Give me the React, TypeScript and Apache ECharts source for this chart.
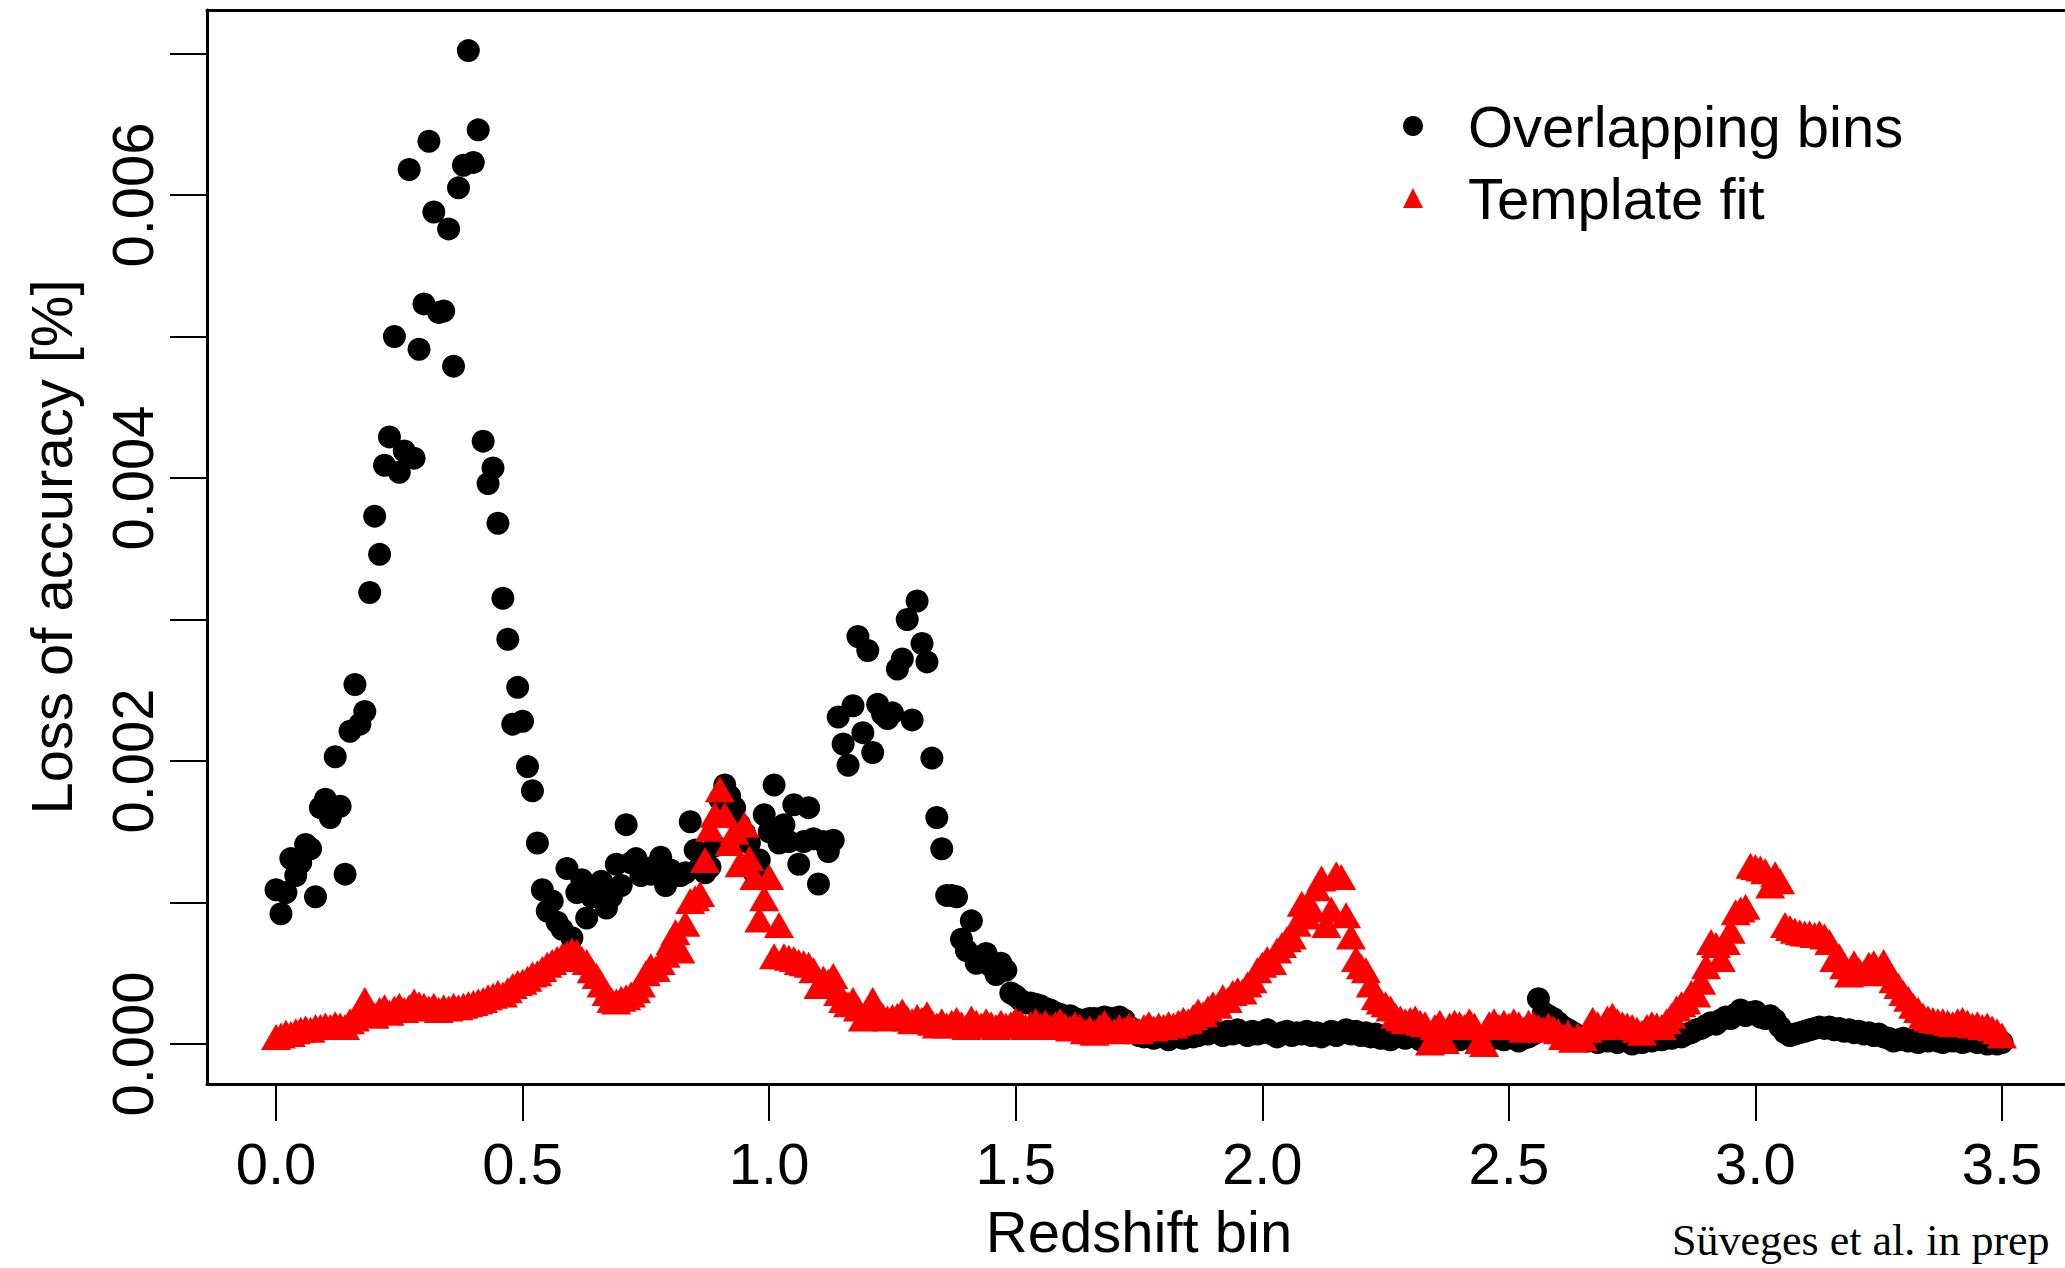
import React, { useEffect, useRef } from "react";
import * as echarts from "echarts";

// Redshift bin centres (regular 0.01 grid from 0.00 to 3.50)
const xBins: number[] = Array.from({ length: 351 }, (_, i) => i / 100);

// Loss of accuracy [%] – overlapping bins (black circles)
const overlappingBins: number[] = [
  0.00109, 0.00092, 0.00107, 0.00131, 0.00119, 0.00128, 0.00141, 0.00138, 0.00104, 0.00167,
  0.00173, 0.00160, 0.00203, 0.00168, 0.00120, 0.00221, 0.00254, 0.00226, 0.00235, 0.00319,
  0.00373, 0.00346, 0.00409, 0.00429, 0.00500, 0.00404, 0.00419, 0.00618, 0.00414, 0.00491,
  0.00523, 0.00638, 0.00588, 0.00517, 0.00518, 0.00576, 0.00479, 0.00605, 0.00621, 0.00702,
  0.00623, 0.00646, 0.00426, 0.00396, 0.00407, 0.00368, 0.00315, 0.00286, 0.00226, 0.00252,
  0.00228, 0.00196, 0.00179, 0.00142, 0.00109, 0.00094, 0.00101, 0.00086, 0.00081, 0.00124,
  0.00075, 0.00107, 0.00116, 0.00089, 0.00104, 0.00110, 0.00115, 0.00096, 0.00104, 0.00127,
  0.00112, 0.00155, 0.00128, 0.00131, 0.00119, 0.00124, 0.00120, 0.00126, 0.00132, 0.00112,
  0.00123, 0.00119, 0.00119, 0.00121, 0.00157, 0.00137, 0.00125, 0.00121, 0.00125, 0.00140,
  0.00173, 0.00183, 0.00175, 0.00167, 0.00155, 0.00149, 0.00142, 0.00121, 0.00130, 0.00162,
  0.00150, 0.00183, 0.00142, 0.00155, 0.00143, 0.00169, 0.00127, 0.00143, 0.00167, 0.00145,
  0.00113, 0.00143, 0.00136, 0.00144, 0.00231, 0.00212, 0.00197, 0.00239, 0.00288, 0.00220,
  0.00278, 0.00206, 0.00240, 0.00233, 0.00230, 0.00234, 0.00265, 0.00272, 0.00300, 0.00229,
  0.00313, 0.00283, 0.00270, 0.00202, 0.00160, 0.00138, 0.00105, 0.00105, 0.00104, 0.00074,
  0.00066, 0.00087, 0.00057, 0.00062, 0.00064, 0.00055, 0.00049, 0.00057, 0.00052, 0.00036,
  0.00034, 0.00031, 0.00029, 0.00029, 0.00028, 0.00027, 0.00025, 0.00024, 0.00022, 0.00021,
  0.00019, 0.00020, 0.00018, 0.00017, 0.00017, 0.00018, 0.00018, 0.00017, 0.00019, 0.00018,
  0.00018, 0.00019, 0.00017, 0.00012, 0.00010, 0.00006, 0.00005, 0.00007, 0.00004, 0.00006,
  0.00005, 0.00003, 0.00006, 0.00005, 0.00004, 0.00007, 0.00005, 0.00006, 0.00008, 0.00007,
  0.00009, 0.00008, 0.00006, 0.00009, 0.00007, 0.00010, 0.00008, 0.00006, 0.00009, 0.00007,
  0.00008, 0.00010, 0.00007, 0.00005, 0.00008, 0.00009, 0.00006, 0.00008, 0.00007, 0.00009,
  0.00006, 0.00008, 0.00005, 0.00007, 0.00009, 0.00006, 0.00008, 0.00010, 0.00007, 0.00009,
  0.00006, 0.00008, 0.00005, 0.00007, 0.00004, 0.00006, 0.00003, 0.00005, 0.00007, 0.00004,
  0.00006, 0.00005, 0.00003, 0.00005, 0.00006, 0.00004, 0.00003, 0.00005, 0.00004, 0.00006,
  0.00003, 0.00005, 0.00004, 0.00002, 0.00004, 0.00005, 0.00003, 0.00004, 0.00006, 0.00003,
  0.00005, 0.00004, 0.00002, 0.00004, 0.00005, 0.00007, 0.00032, 0.00022, 0.00020, 0.00018,
  0.00015, 0.00012, 0.00010, 0.00008, 0.00006, 0.00003, 0.00002, 0.00004, 0.00001, 0.00003,
  0.00002, 0.00004, 0.00001, 0.00003, 0.00002, 0.00000, 0.00002, 0.00001, 0.00003, 0.00002,
  0.00004, 0.00003, 0.00005, 0.00004, 0.00006, 0.00005, 0.00007, 0.00008, 0.00010, 0.00011,
  0.00013, 0.00015, 0.00014, 0.00017, 0.00019, 0.00018, 0.00021, 0.00024, 0.00020, 0.00022,
  0.00023, 0.00019, 0.00018, 0.00020, 0.00017, 0.00012, 0.00008, 0.00006, 0.00007, 0.00008,
  0.00009, 0.00010, 0.00011, 0.00012, 0.00011, 0.00012, 0.00010, 0.00011, 0.00009, 0.00010,
  0.00008, 0.00009, 0.00007, 0.00008, 0.00006, 0.00007, 0.00005, 0.00004, 0.00002, 0.00003,
  0.00004, 0.00002, 0.00003, 0.00001, 0.00003, 0.00002, 0.00004, 0.00002, 0.00001, 0.00003,
  0.00002, 0.00003, 0.00001, 0.00002, 0.00003, 0.00001, 0.00002, 0.00000, 0.00001, 0.00000,
  0.00001,
];

// Loss of accuracy [%] – template fit (red triangles)
const templateFit: number[] = [
  0.00005, 0.00006, 0.00008, 0.00007, 0.00009, 0.00010, 0.00011, 0.00010, 0.00012, 0.00012,
  0.00013, 0.00012, 0.00014, 0.00013, 0.00012, 0.00016, 0.00018, 0.00024, 0.00031, 0.00022,
  0.00020, 0.00024, 0.00026, 0.00022, 0.00025, 0.00027, 0.00024, 0.00026, 0.00030, 0.00028,
  0.00027, 0.00025, 0.00027, 0.00024, 0.00026, 0.00025, 0.00027, 0.00026, 0.00027, 0.00028,
  0.00029, 0.00030, 0.00031, 0.00033, 0.00034, 0.00036, 0.00035, 0.00038, 0.00041, 0.00043,
  0.00044, 0.00046, 0.00049, 0.00050, 0.00053, 0.00056, 0.00058, 0.00060, 0.00062, 0.00064,
  0.00066, 0.00065, 0.00060, 0.00058, 0.00052, 0.00048, 0.00042, 0.00036, 0.00031, 0.00030,
  0.00032, 0.00033, 0.00035, 0.00038, 0.00042, 0.00050, 0.00055, 0.00053, 0.00058, 0.00063,
  0.00072, 0.00079, 0.00066, 0.00085, 0.00101, 0.00103, 0.00106, 0.00130, 0.00152, 0.00162,
  0.00180, 0.00162, 0.00142, 0.00150, 0.00127, 0.00155, 0.00131, 0.00118, 0.00088, 0.00103,
  0.00118, 0.00062, 0.00084, 0.00062, 0.00061, 0.00060, 0.00058, 0.00057, 0.00056, 0.00052,
  0.00041, 0.00046, 0.00044, 0.00048, 0.00036, 0.00031, 0.00028, 0.00031, 0.00025, 0.00018,
  0.00024, 0.00031, 0.00022, 0.00020, 0.00018, 0.00019, 0.00020, 0.00023, 0.00018, 0.00016,
  0.00019, 0.00017, 0.00021, 0.00015, 0.00013, 0.00016, 0.00013, 0.00015, 0.00017, 0.00014,
  0.00012, 0.00018, 0.00015, 0.00013, 0.00016, 0.00014, 0.00012, 0.00015, 0.00013, 0.00014,
  0.00017, 0.00015, 0.00012, 0.00014, 0.00016, 0.00013, 0.00015, 0.00012, 0.00014, 0.00016,
  0.00013, 0.00011, 0.00014, 0.00012, 0.00009, 0.00011, 0.00008, 0.00012, 0.00015, 0.00010,
  0.00009, 0.00012, 0.00010, 0.00013, 0.00011, 0.00009, 0.00012, 0.00014, 0.00011, 0.00013,
  0.00012, 0.00014, 0.00013, 0.00015, 0.00017, 0.00016, 0.00019, 0.00023, 0.00021, 0.00025,
  0.00028, 0.00027, 0.00033, 0.00031, 0.00036, 0.00038, 0.00037, 0.00042, 0.00045, 0.00052,
  0.00056, 0.00060, 0.00058, 0.00066, 0.00070, 0.00074, 0.00076, 0.00085, 0.00099, 0.00090,
  0.00096, 0.00110, 0.00117, 0.00084, 0.00095, 0.00120, 0.00118, 0.00091, 0.00076, 0.00060,
  0.00055, 0.00052, 0.00042, 0.00033, 0.00030, 0.00028, 0.00025, 0.00020, 0.00018, 0.00016,
  0.00017, 0.00018, 0.00015, 0.00014, 0.00001, 0.00012, 0.00015, 0.00002, 0.00013, 0.00015,
  0.00014, 0.00012, 0.00016, 0.00013, 0.00002, 0.00000, 0.00014, 0.00016, 0.00012, 0.00015,
  0.00013, 0.00016, 0.00014, 0.00010, 0.00015, 0.00014, 0.00012, 0.00010, 0.00013, 0.00011,
  0.00009, 0.00005, 0.00008, 0.00003, 0.00006, 0.00004, 0.00010, 0.00017, 0.00014, 0.00012,
  0.00018, 0.00020, 0.00016, 0.00014, 0.00013, 0.00012, 0.00010, 0.00008, 0.00012, 0.00014,
  0.00013, 0.00012, 0.00016, 0.00020, 0.00025, 0.00028, 0.00030, 0.00036, 0.00035, 0.00044,
  0.00055, 0.00072, 0.00070, 0.00060, 0.00072, 0.00080, 0.00093, 0.00095, 0.00097, 0.00126,
  0.00125, 0.00124, 0.00122, 0.00112, 0.00120, 0.00115, 0.00084, 0.00082, 0.00080, 0.00079,
  0.00078, 0.00078, 0.00077, 0.00078, 0.00076, 0.00072, 0.00060, 0.00062, 0.00055, 0.00049,
  0.00057, 0.00052, 0.00050, 0.00056, 0.00057, 0.00052, 0.00058, 0.00050, 0.00045, 0.00041,
  0.00036, 0.00032, 0.00027, 0.00024, 0.00020, 0.00018, 0.00017, 0.00016, 0.00016, 0.00015,
  0.00014, 0.00016, 0.00017, 0.00015, 0.00013, 0.00014, 0.00012, 0.00013, 0.00011, 0.00009,
  0.00006,
];

const xTickValues: number[] = [0, 0.5, 1.0, 1.5, 2.0, 2.5, 3.0, 3.5];
const yTickValues: number[] = [0, 0.001, 0.002, 0.003, 0.004, 0.005, 0.006, 0.007];
const yLabelValues: number[] = [0, 0.002, 0.004, 0.006];

const SANS = "'Liberation Sans', Arial, Helvetica, sans-serif";
const SERIF = "'Liberation Serif', 'Times New Roman', serif";
const X_MIN = -0.14;
const X_MAX = 3.64;

export default function App() {
  const ref = useRef<HTMLDivElement>(null);

  useEffect(() => {
    if (!ref.current) return;
    const chart = echarts.init(ref.current, null, { renderer: "svg" });
    const boxLine = { show: true, onZero: false, lineStyle: { color: "#000", width: 3 } };
    chart.setOption({
      animation: false,
      backgroundColor: "#ffffff",
      grid: {
        left: 207,
        top: 10,
        width: 1864,
        height: 1074,
        show: false,
        outerBoundsMode: "none",
        containLabel: false,
      },
      legend: {
        data: ["Overlapping bins", "Template fit"],
        orient: "vertical",
        left: 1403,
        top: 97,
        padding: 0,
        itemWidth: 20,
        itemHeight: 20,
        itemGap: 14,
        selectedMode: false,
        textStyle: {
          fontSize: 58,
          fontFamily: SANS,
          color: "#000",
          lineHeight: 58,
          padding: [0, 0, 0, 40],
        },
      },
      xAxis: [
        {
          type: "value",
          position: "bottom",
          min: X_MIN,
          max: X_MAX,
          name: "Redshift bin",
          nameLocation: "middle",
          nameGap: 118,
          nameTextStyle: { fontSize: 58, fontFamily: SANS, color: "#000", lineHeight: 58 },
          axisLine: boxLine,
          axisTick: {
            show: true,
            customValues: xTickValues,
            length: 37,
            lineStyle: { color: "#000", width: 2 },
          },
          axisLabel: {
            customValues: xTickValues,
            formatter: (v: number) => v.toFixed(1),
            margin: 50,
            fontSize: 58,
            lineHeight: 58,
            fontFamily: SANS,
            color: "#000",
          },
          splitLine: { show: false },
        },
        {
          // top edge of the plot box
          type: "value",
          position: "top",
          min: X_MIN,
          max: X_MAX,
          axisLine: boxLine,
          axisTick: { show: false },
          axisLabel: { show: false },
          splitLine: { show: false },
        },
      ],
      yAxis: {
        type: "value",
        min: -0.000283,
        max: 0.007307,
        name: "Loss of accuracy [%]",
        nameLocation: "middle",
        nameRotate: 90,
        nameGap: 127,
        nameTextStyle: { fontSize: 58, fontFamily: SANS, color: "#000", lineHeight: 58 },
        axisLine: boxLine,
        axisTick: {
          show: true,
          customValues: yTickValues,
          length: 37,
          lineStyle: { color: "#000", width: 2 },
        },
        axisLabel: {
          customValues: yLabelValues,
          formatter: (v: number) => v.toFixed(3),
          rotate: 90,
          margin: 46,
          fontSize: 58,
          lineHeight: 58,
          fontFamily: SANS,
          color: "#000",
        },
        splitLine: { show: false },
      },
      graphic: [
        {
          type: "text",
          left: 1672,
          top: 1218,
          silent: true,
          style: {
            text: "Süveges et al. in prep",
            fontSize: 44,
            fontFamily: SERIF,
            fill: "#000",
          },
        },
      ],
      series: [
        {
          name: "Overlapping bins",
          type: "scatter",
          symbol: "circle",
          symbolSize: 23,
          itemStyle: { color: "#000000", opacity: 1 },
          emphasis: { disabled: true },
          z: 2,
          data: xBins.map((x, i) => [x, overlappingBins[i]]),
        },
        {
          name: "Template fit",
          type: "scatter",
          symbol: "triangle",
          symbolSize: [30, 26],
          itemStyle: { color: "#ff0000", opacity: 1 },
          emphasis: { disabled: true },
          z: 3,
          data: xBins.map((x, i) => [x, templateFit[i]]),
        },
      ],
    });
    return () => chart.dispose();
  }, []);

  return (
    <div
      ref={ref}
      style={{ position: "absolute", left: 0, top: 0, width: 2065, height: 1268, background: "#fff" }}
    />
  );
}
